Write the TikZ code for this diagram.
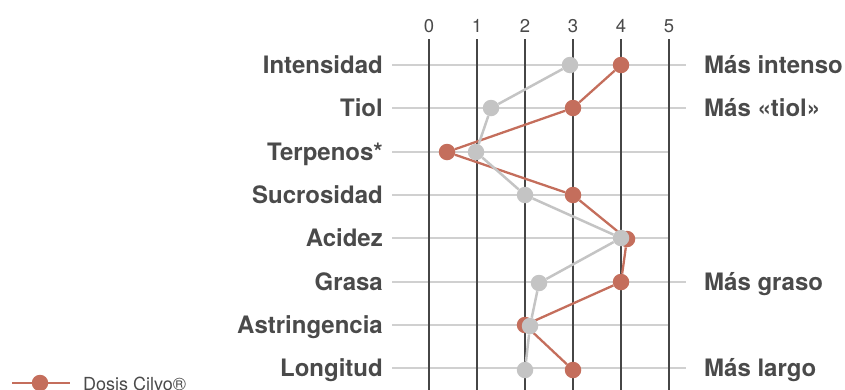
\documentclass[tikz,border=0pt]{standalone}
\usepackage{fontspec}
\setmainfont{TeX Gyre Heros}
\usepackage{xcolor}
\usepackage{tikz}
\definecolor{cilvo}{RGB}{196,110,92}
\definecolor{testigo}{RGB}{196,196,196}
\definecolor{texto}{RGB}{74,74,74}
\definecolor{rejilla}{RGB}{208,208,208}
\definecolor{eje}{RGB}{70,70,70}
\tikzset{
	etiq/.style={font=\fontsize{24}{28}\selectfont\bfseries,text=texto,inner sep=0pt},
	escala/.style={font=\fontsize{18.5}{22}\selectfont,text=texto,inner sep=0pt},
	leyenda/.style={font=\fontsize{18}{22}\selectfont,text=texto,inner sep=0pt},
	hgrid/.style={draw=rejilla,line width=1.2pt},
	vgrid/.style={draw=eje,line width=1.4pt},
	rdot/.style={circle,fill=cilvo,minimum size=16.5pt,inner sep=0pt},
	gdot/.style={circle,fill=testigo,minimum size=16.5pt,inner sep=0pt},
	rline/.style={draw=cilvo,line width=2.3pt},
	gline/.style={draw=testigo,line width=2.5pt}
}

\begin{document}
\begin{tikzpicture}[x=1pt,y=-1pt]
	\useasboundingbox (0,0) rectangle (845,389);
	\clip (0,0) rectangle (845,389);
	% escala
	\node[escala,anchor=base] (t0) at (429,32) {0};
	\node[escala,anchor=base] (t1) at (477,32) {1};
	\node[escala,anchor=base] (t2) at (525,32) {2};
	\node[escala,anchor=base] (t3) at (573,32) {3};
	\node[escala,anchor=base] (t4) at (621,32) {4};
	\node[escala,anchor=base] (t5) at (669,32) {5};
	% atributos
	\node[etiq,anchor=base east] (intensidad) at (383,73.5) {Intensidad};
	\node[etiq,anchor=base east] (tiol) at (383,116.5) {Tiol};
	\node[etiq,anchor=base east] (terpenos) at (383,160) {Terpenos*};
	\node[etiq,anchor=base east] (sucrosidad) at (383,203.5) {Sucrosidad};
	\node[etiq,anchor=base east] (acidez) at (383,246.5) {Acidez};
	\node[etiq,anchor=base east] (grasa) at (383,290) {Grasa};
	\node[etiq,anchor=base east] (astringencia) at (383,333.5) {Astringencia};
	\node[etiq,anchor=base east] (longitud) at (383,376.5) {Longitud};
	\node[etiq,anchor=base west] (masintenso) at (704,73.5) {Más intenso};
	\node[etiq,anchor=base west] (mastiol) at (704,116.5) {Más «tiol»};
	\node[etiq,anchor=base west] (masgraso) at (704,290) {Más graso};
	\node[etiq,anchor=base west] (maslargo) at (704,376.5) {Más largo};
	% rejilla
	\draw[hgrid] (392,65) -- (686,65);
	\draw[hgrid] (392,108) -- (686,108);
	\draw[hgrid] (392,152) -- (669,152);
	\draw[hgrid] (392,195) -- (669,195);
	\draw[hgrid] (392,238) -- (669,238);
	\draw[hgrid] (392,282) -- (686,282);
	\draw[hgrid] (392,325) -- (669,325);
	\draw[hgrid] (392,368) -- (686,368);
	\draw[vgrid] (429,39) -- (429,395);
	\draw[vgrid] (477,39) -- (477,395);
	\draw[vgrid] (525,39) -- (525,395);
	\draw[vgrid] (573,39) -- (573,395);
	\draw[vgrid] (621,39) -- (621,395);
	\draw[vgrid] (669,39) -- (669,395);
	% Dosis Cilvo
	\node[rdot] (r1) at (621,65) {};
	\node[rdot] (r2) at (573,108) {};
	\node[rdot] (r3) at (447,152) {};
	\node[rdot] (r4) at (573,195) {};
	\node[rdot] (r5) at (627,239) {};
	\node[rdot] (r6) at (621,282) {};
	\node[rdot] (r7) at (525,325) {};
	\node[rdot] (r8) at (573,370) {};
	\draw[rline] (r1)--(r2)--(r3)--(r4)--(r5)--(r6)--(r7)--(r8);
	% testigo
	\node[gdot] (g1) at (570,65) {};
	\node[gdot] (g2) at (491,108) {};
	\node[gdot] (g3) at (476,152) {};
	\node[gdot] (g4) at (525,195) {};
	\node[gdot] (g5) at (621,238) {};
	\node[gdot] (g6) at (539,283) {};
	\node[gdot] (g7) at (530,326) {};
	\node[gdot] (g8) at (525,370) {};
	\draw[gline] (g1)--(g2)--(g3)--(g4)--(g5)--(g6)--(g7)--(g8);
	% leyenda
	\coordinate (l0) at (12,383);
	\coordinate (l1) at (70,383);
	\node[rdot] (lp) at (40,383) {};
	\draw[rline] (l0)--(lp)--(l1);
	\node[leyenda,anchor=base west] (dosis) at (83,390.5) {Dosis Cilvo®};
\end{tikzpicture}
\end{document}
